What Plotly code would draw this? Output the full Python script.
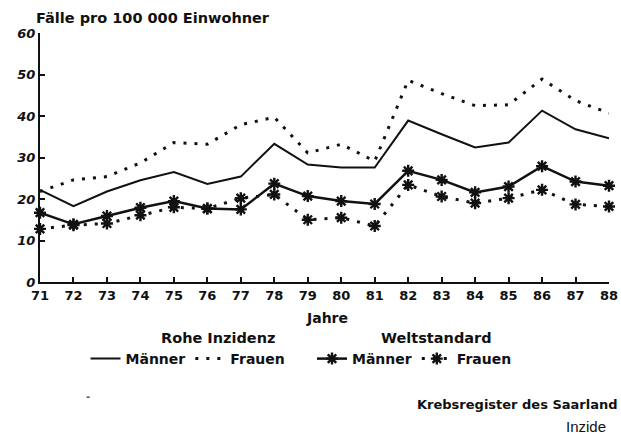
"""
Krebsinzidenz Saarland 1971-1988: rohe und weltstandardisierte Raten
"""
import plotly.graph_objects as go

jahre = list(range(71, 89))
tick_labels = [str(j) for j in jahre]

# Rohe Inzidenz
rohe_maenner = [22.2, 18.3, 21.8, 24.5, 26.5, 23.6, 25.4, 33.3, 28.3, 27.6,
                27.6, 38.9, 35.6, 32.4, 33.6, 41.3, 36.8, 34.6]
rohe_frauen = [21.8, 24.6, 25.4, 28.7, 33.6, 33.2, 37.9, 39.7, 31.1, 33.2,
               29.1, 48.6, 45.4, 42.5, 42.7, 48.9, 43.7, 40.7]

# Weltstandard
welt_maenner = [16.7, 13.9, 15.9, 17.9, 19.5, 17.7, 17.5, 23.7, 20.7, 19.5,
                18.8, 26.8, 24.6, 21.6, 23.0, 27.9, 24.2, 23.2]
welt_frauen = [12.8, 13.7, 14.1, 16.1, 18.0, 17.7, 20.2, 21.1, 15.0, 15.5,
               13.5, 23.4, 20.6, 19.0, 20.2, 22.2, 18.7, 18.2]

FONT = "DejaVu Sans"
SCHWARZ = "#111111"
DOT = "3px,8px"

fig = go.Figure()

fig.add_trace(go.Scatter(
    x=jahre, y=rohe_maenner, name="<b>Männer</b>", mode="lines",
    line=dict(color=SCHWARZ, width=2), legend="legend"
))
fig.add_trace(go.Scatter(
    x=jahre, y=rohe_frauen, name="<b>Frauen</b>", mode="lines",
    line=dict(color=SCHWARZ, width=3, dash=DOT), legend="legend"
))
fig.add_trace(go.Scatter(
    x=jahre, y=welt_maenner, name="<b>Männer</b>", mode="lines+markers",
    line=dict(color=SCHWARZ, width=2.5),
    marker=dict(symbol="asterisk-open", size=10, color=SCHWARZ,
                line=dict(color=SCHWARZ, width=2.4)),
    cliponaxis=False, legend="legend2"
))
fig.add_trace(go.Scatter(
    x=jahre, y=welt_frauen, name="<b>Frauen</b>", mode="lines+markers",
    line=dict(color=SCHWARZ, width=3, dash=DOT),
    marker=dict(symbol="asterisk-open", size=10, color=SCHWARZ,
                line=dict(color=SCHWARZ, width=2.4)),
    cliponaxis=False, legend="legend2"
))

legend_style = dict(
    orientation="h", xanchor="left", yanchor="top", y=-0.245,
    font=dict(family=FONT, size=14, color=SCHWARZ),
    bgcolor="rgba(0,0,0,0)", itemwidth=30, tracegroupgap=0,
)

fig.update_layout(
    width=621, height=435,
    margin=dict(l=40, r=12, t=33, b=153),
    paper_bgcolor="white", plot_bgcolor="white",
    font=dict(family=FONT, size=14, color=SCHWARZ),
    legend=dict(x=0.08, **legend_style),
    legend2=dict(x=0.478, **legend_style),
    xaxis=dict(
        range=[71, 88], tickvals=jahre, ticktext=[f"<b>{t}</b>" for t in tick_labels],
        showline=True, linecolor=SCHWARZ, linewidth=2,
        ticks="inside", ticklen=5, tickwidth=2, tickcolor=SCHWARZ,
        showgrid=False, zeroline=False, automargin=False,
        tickfont=dict(family=FONT, size=13),
    ),
    yaxis=dict(
        range=[0, 60], tickvals=[0, 10, 20, 30, 40, 50, 60],
        ticktext=[f"<b><i>{v}</i></b>" for v in [0, 10, 20, 30, 40, 50, 60]],
        showline=True, linecolor=SCHWARZ, linewidth=2,
        ticks="inside", ticklen=5, tickwidth=2, tickcolor=SCHWARZ,
        showgrid=False, zeroline=False, automargin=False,
        tickfont=dict(family=FONT, size=13),
    ),
)

annotations = [
    dict(text="<b>Fälle pro 100 000 Einwohner</b>", x=-0.01, y=1.06,
         xanchor="left", yanchor="middle", font=dict(size=14.5)),
    dict(text="<b>Jahre</b>", x=0.504, y=-0.145, xanchor="center",
         yanchor="middle", font=dict(size=14)),
    # Gruppenüberschriften der Legende
    dict(text="<b>Rohe Inzidenz</b>", x=0.313, y=-0.225, xanchor="center",
         yanchor="middle", font=dict(size=14.5)),
    dict(text="<b>Weltstandard</b>", x=0.696, y=-0.225, xanchor="center",
         yanchor="middle", font=dict(size=14.5)),
    dict(text="<b>Krebsregister des Saarland</b>", x=1.02, y=-0.49,
         xanchor="right", yanchor="middle", font=dict(size=13)),
    dict(text="Inzide", x=0.998, y=-0.58, xanchor="right",
         yanchor="middle", font=dict(family="Liberation Sans", size=15)),
    dict(text="<b>-</b>", x=0.084, y=-0.46, xanchor="center",
         yanchor="middle", font=dict(size=10, color="#555555")),
]
for a in annotations:
    fig.add_annotation(xref="paper", yref="paper", showarrow=False, **a)

# Seitenrand des Browsers entfernen, damit die Grafik bündig sitzt
fig.write_html("out.html", config={"displayModeBar": False},
               post_script="document.body.style.margin='0';")
